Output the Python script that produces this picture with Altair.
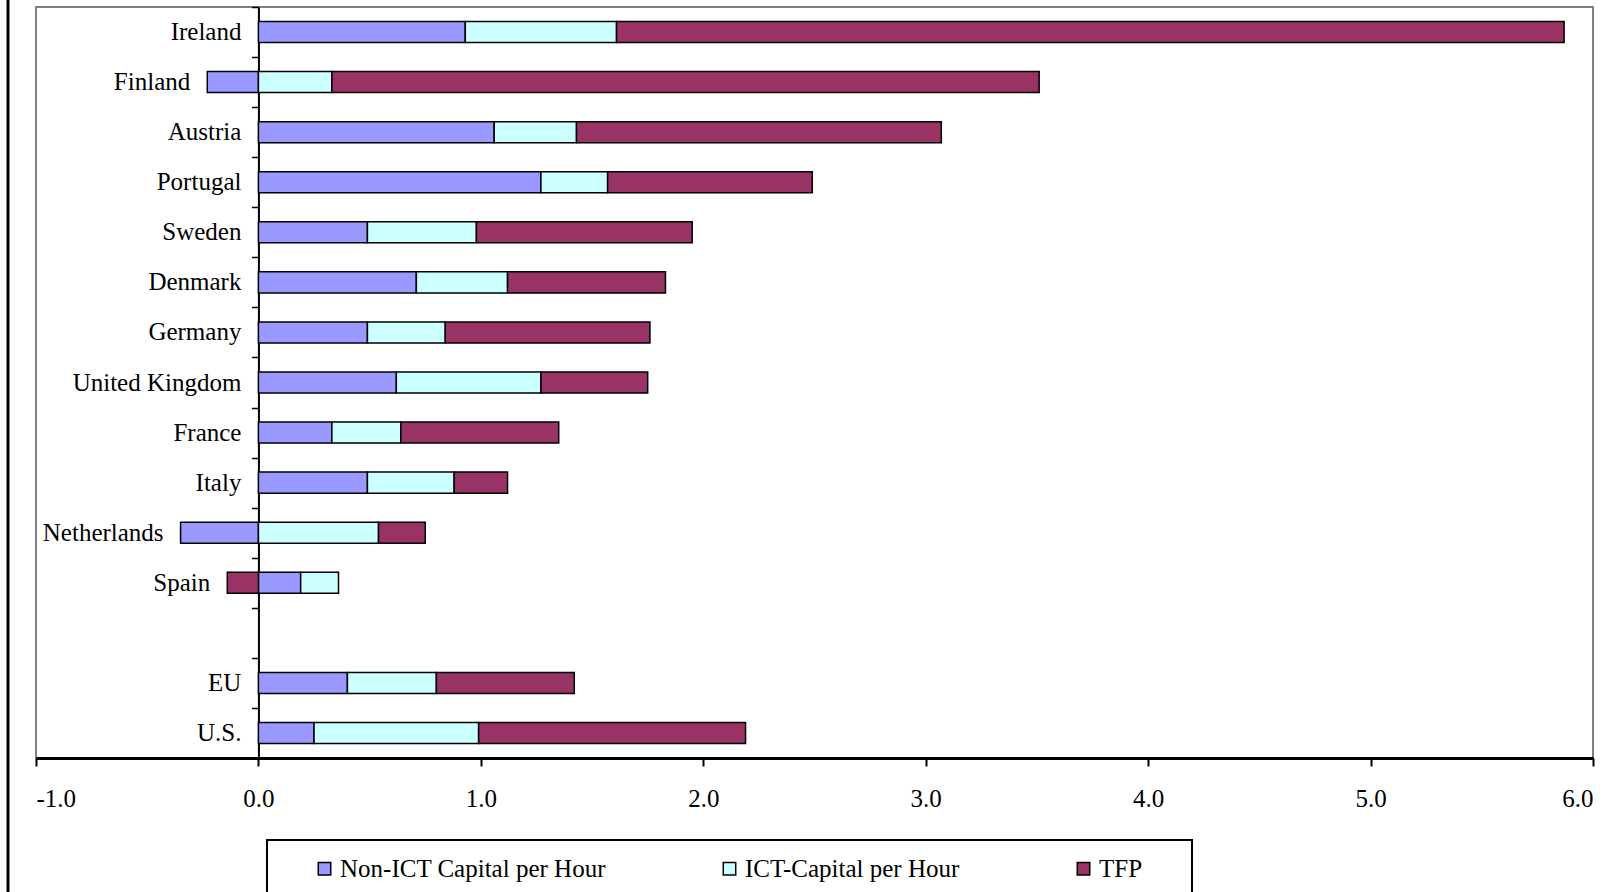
import altair as alt
import pandas as pd

countries = ["Ireland", "Finland", "Austria", "Portugal", "Sweden", "Denmark", "Germany",
             "United Kingdom", "France", "Italy", "Netherlands", "Spain", "EU", "U.S."]
non_ict = [0.93, -0.23, 1.06, 1.27, 0.49, 0.71, 0.49, 0.62, 0.33, 0.49, -0.35, 0.19, 0.40, 0.25]
ict = [0.68, 0.33, 0.37, 0.30, 0.49, 0.41, 0.35, 0.65, 0.31, 0.39, 0.54, 0.17, 0.40, 0.74]
tfp = [4.26, 3.18, 1.64, 0.92, 0.97, 0.71, 0.92, 0.48, 0.71, 0.24, 0.21, -0.14, 0.62, 1.20]
series = ["Non-ICT Capital per Hour", "ICT-Capital per Hour", "TFP"]
colors = ["#9999FF", "#CCFFFF", "#993366"]
row_order = countries[:12] + [" "] + countries[12:]
x_ticks = [-1, 0, 1, 2, 3, 4, 5, 6]

FONT = "Liberation Serif"
FS = 25
W, H = 1557, 751
PAD_IN = 0.58
STEP = H / len(row_order)

rows = []
for i, c in enumerate(countries):
    for k, (s, v) in enumerate(zip(series, [non_ict[i], ict[i], tfp[i]])):
        rows.append({"country": c, "series": s, "value": v, "order": k})
df = pd.DataFrame(rows)

lab = pd.DataFrame({
    "country": countries,
    "lx": [sum(v for v in (a, b, t) if v < 0) for a, b, t in zip(non_ict, ict, tfp)],
})

yscale = alt.Scale(domain=row_order, paddingInner=PAD_IN, paddingOuter=PAD_IN / 2)
xscale = alt.Scale(domain=[-1, 6], nice=False, zero=False)

bars = alt.Chart(df).mark_bar(stroke="black", strokeWidth=1.5, opacity=1).encode(
    x=alt.X("value:Q", stack="zero", scale=xscale,
            axis=alt.Axis(values=x_ticks, title=None, grid=False,
                          labelExpr="(datum.value < 0 ? '-' : '') + format(abs(datum.value), '.1f')",
                          domainColor="black", domainWidth=3, tickColor="black",
                          tickSize=8, tickWidth=2, labelFont=FONT, labelFontSize=FS,
                          labelColor="black", labelPadding=20)),
    y=alt.Y("country:N", scale=yscale, sort=row_order,
            axis=alt.Axis(orient="left", offset=-W / 7, labels=False, title=None,
                          domainColor="black", domainWidth=2, tickColor="black",
                          tickSize=7, tickWidth=1.5, bandPosition=0,
                          tickOffset=-PAD_IN / 2 * STEP, grid=False)),
    color=alt.Color("series:N", scale=alt.Scale(domain=series, range=colors),
                    legend=alt.Legend(orient="none", legendX=276, legendY=849,
                                      direction="horizontal", title=None,
                                      labelFont=FONT, labelFontSize=FS, labelColor="black",
                                      labelLimit=600,
                                      symbolType="square", symbolSize=155,
                                      symbolStrokeColor="black", symbolStrokeWidth=1.5,
                                      symbolOpacity=1,
                                      columnPadding=111, labelOffset=3, padding=0)),
    order=alt.Order("order:Q"),
)

labels = alt.Chart(lab).mark_text(align="right", baseline="middle", dx=-17,
                                  font=FONT, fontSize=FS, color="black").encode(
    x=alt.X("lx:Q", scale=xscale),
    y=alt.Y("country:N", scale=yscale, sort=row_order),
    text="country:N",
)

one = pd.DataFrame({"a": [0]})
legend_box = alt.Chart(one).mark_rect(fill="white", fillOpacity=0, stroke="black",
                                      strokeWidth=2).encode(
    x=alt.value(231), x2=alt.value(1156), y=alt.value(833), y2=alt.value(900))
frame_left = alt.Chart(one).mark_rule(color="black", strokeWidth=3).encode(
    x=alt.value(-28), y=alt.value(-20), y2=alt.value(900))

chart = alt.layer(legend_box, bars, labels, frame_left).properties(
    width=W, height=H,
    autosize=alt.AutoSizeParams(type="none"),
    padding={"left": 36, "top": 7, "right": 28, "bottom": 134},
    background="white",
).configure_view(stroke="#808080", strokeWidth=2)

chart.save("out.html", embed_options={"renderer": "svg", "actions": False})
